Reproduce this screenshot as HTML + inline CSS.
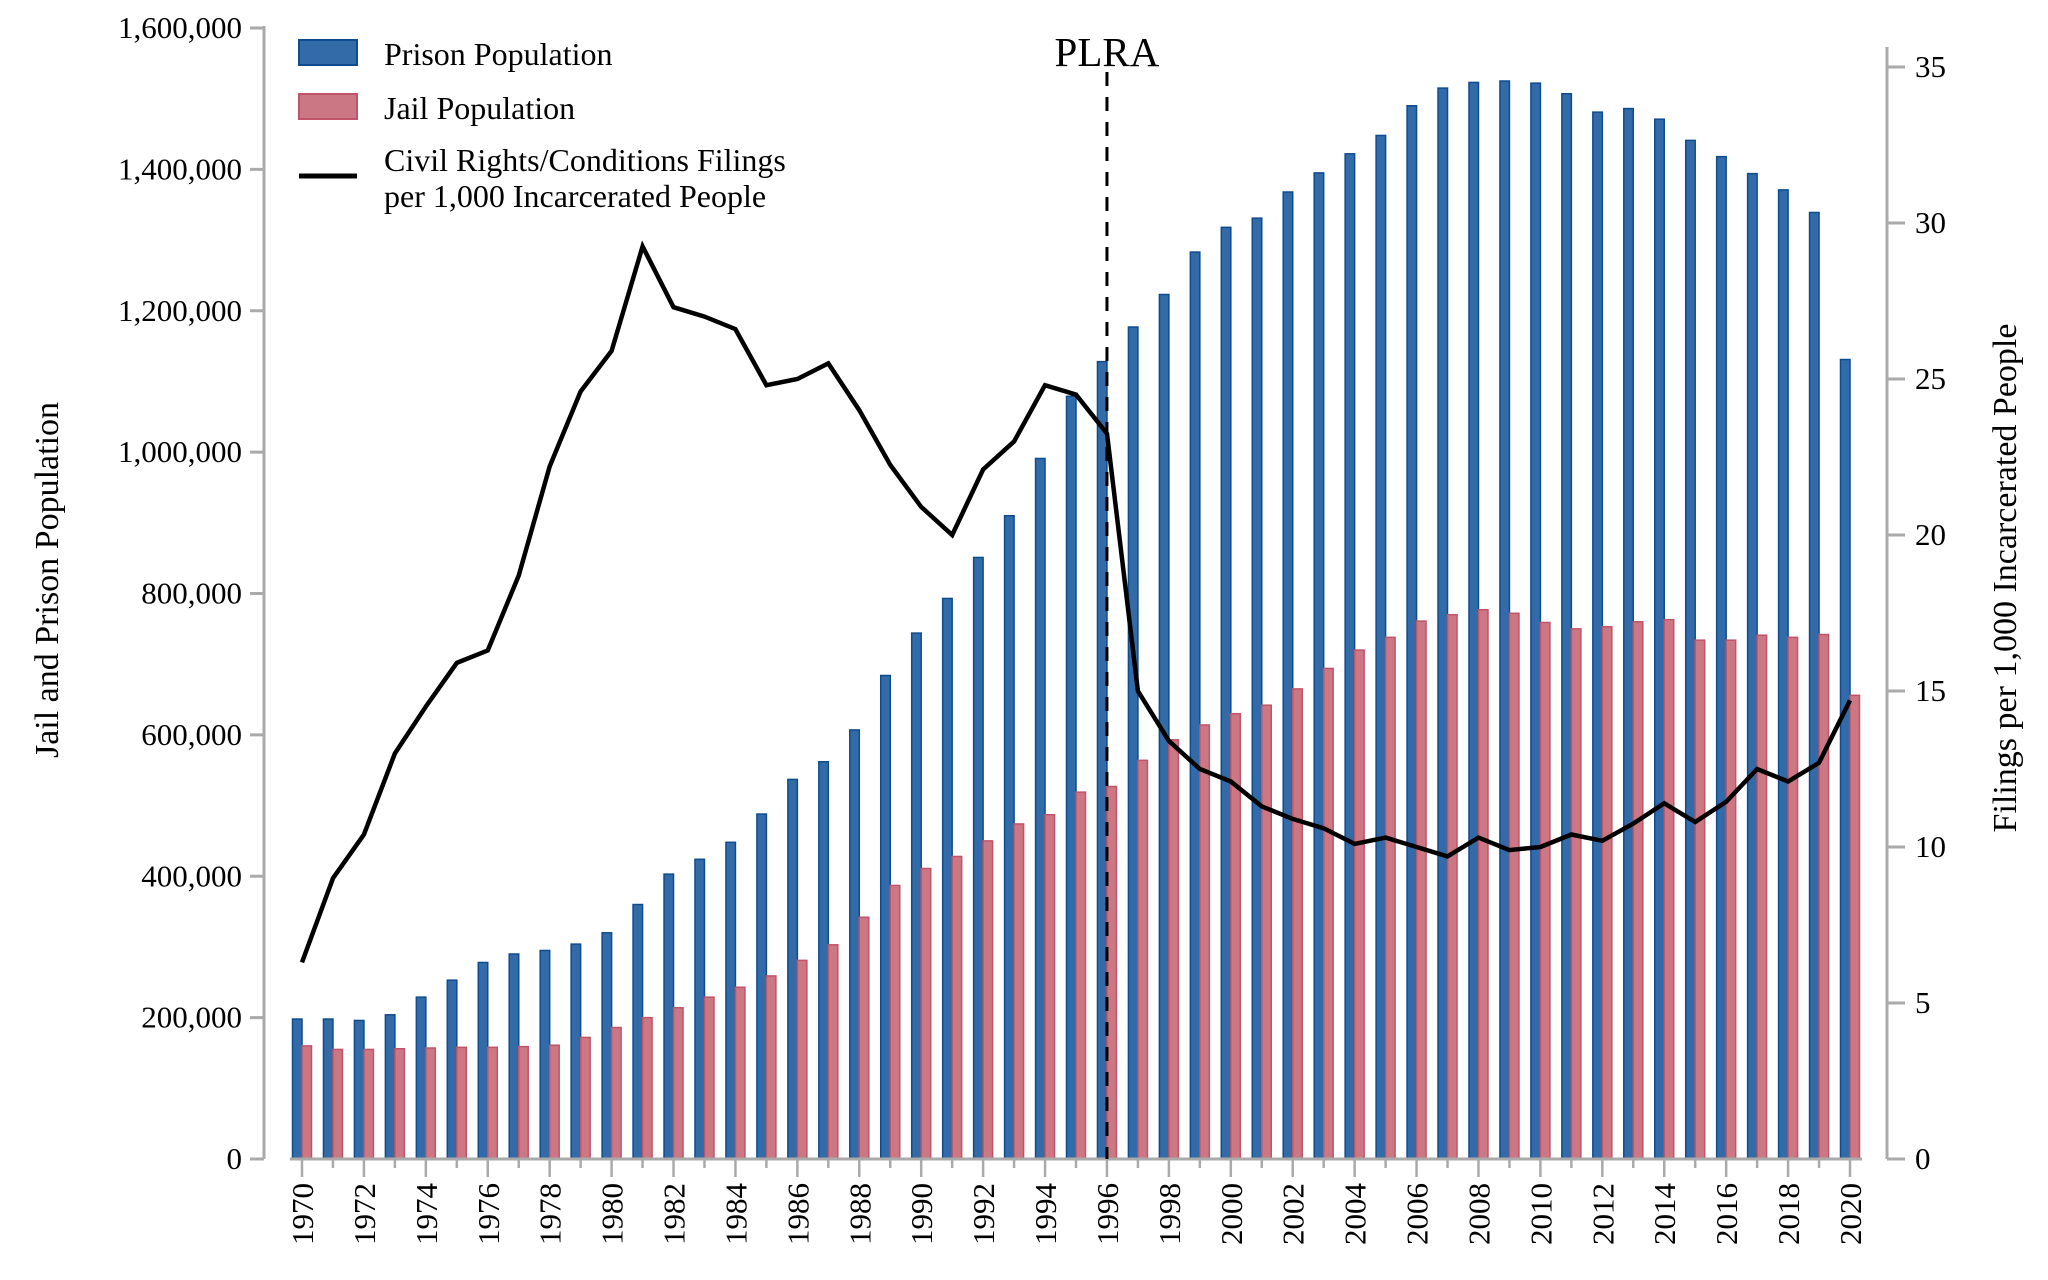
<!DOCTYPE html>
<html><head><meta charset="utf-8"><style>
html,body{margin:0;padding:0;background:#fff;}
svg{display:block;font-family:"Liberation Serif",serif;}
</style></head><body>
<svg id="chart" width="2048" height="1280" viewBox="0 0 2048 1280">
<g id="g-bars"></g>
<g id="g-axes"></g>
<g id="g-line"></g>
<g>
<rect x="299" y="40" width="58" height="25" fill="#336ba8" stroke="#0f4c8f" stroke-width="2"/>
<text x="384" y="65" font-size="32">Prison Population</text>
<rect x="299" y="94" width="58" height="25" fill="#cc7784" stroke="#c05468" stroke-width="2"/>
<text x="384" y="119" font-size="32">Jail Population</text>
<line x1="299" y1="176" x2="357" y2="176" stroke="#000" stroke-width="5"/>
<text x="384" y="171" font-size="32">Civil Rights/Conditions Filings</text>
<text x="384" y="207" font-size="32">per 1,000 Incarcerated People</text>
</g>
<text transform="translate(58,580) rotate(-90)" text-anchor="middle" font-size="34">Jail and Prison Population</text>
<text transform="translate(2016,578) rotate(-90)" text-anchor="middle" font-size="34">Filings per 1,000 Incarcerated People</text>
</svg>
<script>
const years=[];for(let y=1970;y<=2020;y++)years.push(y);
const prison=[198000,198000,196000,204000,229000,253000,278000,290000,295000,304000,320000,360000,403000,424000,448000,488000,537000,562000,607000,684000,744000,793000,851000,910000,991000,1079000,1128000,1177000,1223000,1283000,1318000,1331000,1368000,1395000,1422000,1448000,1490000,1515000,1523000,1525000,1522000,1507000,1481000,1486000,1471000,1441000,1418000,1394000,1371000,1339000,1131000];
const jail=[160000,155000,155000,156000,157000,158000,158000,159000,161000,172000,186000,200000,214000,229000,243000,259000,281000,303000,342000,387000,411000,428000,450000,474000,487000,519000,527000,564000,593000,614000,630000,642000,665000,694000,720000,738000,761000,770000,777000,772000,759000,750000,753000,760000,763000,734000,734000,741000,738000,742000,656000];
const filings=[6.3,9.0,10.4,13.0,14.5,15.9,16.3,18.7,22.2,24.6,25.9,29.25,27.3,27.0,26.6,24.8,25.0,25.5,24.0,22.25,20.9,20.0,22.1,23.0,24.8,24.5,23.25,15.0,13.4,12.5,12.1,11.3,10.9,10.6,10.1,10.3,10.0,9.7,10.3,9.9,10.0,10.4,10.2,10.75,11.4,10.8,11.45,12.5,12.1,12.7,14.7];
const leftTicks=[0,200000,400000,600000,800000,1000000,1200000,1400000,1600000];
const rightTicks=[0,5,10,15,20,25,30,35];
const plraYear=1996;

const NS="http://www.w3.org/2000/svg";
const X0=302,XS=30.96,Y0=1159,YTOP=28,RTOP=67;
const xs=y=>X0+(y-1970)*XS;
const yl=v=>Y0-v/1600000*(Y0-YTOP);
const yr=v=>Y0-v/35*(Y0-RTOP);
function mk(tag,attrs,parent){const e=document.createElementNS(NS,tag);for(const k in attrs)e.setAttribute(k,attrs[k]);parent.appendChild(e);return e;}
const gb=document.getElementById('g-bars'),ga=document.getElementById('g-axes'),gl=document.getElementById('g-line');
const BW=9.5;
years.forEach((y,i)=>{
  const x=xs(y);
  let r=mk('rect',{x:x-BW,y:yl(prison[i]),width:BW,height:Y0-yl(prison[i]),fill:'#336ba8',stroke:'#0f4c8f','stroke-width':1.5},gb);
  
  
  let p=mk('rect',{x:x,y:yl(jail[i]),width:BW,height:Y0-yl(jail[i]),fill:'#cc7784',stroke:'#c05468','stroke-width':1.5},gb);
  
  
});
// axes
let a=mk('line',{x1:264,y1:YTOP-2,x2:264,y2:Y0,stroke:'#aaa','stroke-width':3},ga);

a=mk('line',{x1:1887,y1:RTOP-20,x2:1887,y2:Y0,stroke:'#aaa','stroke-width':3},ga);

a=mk('line',{x1:xs(1970)-12,y1:Y0,x2:xs(2020)+12,y2:Y0,stroke:'#aaa','stroke-width':3},ga);

leftTicks.forEach(v=>{
  mk('line',{x1:250,y1:yl(v),x2:264,y2:yl(v),stroke:'#aaa','stroke-width':3},ga);
  const t=mk('text',{x:242,y:yl(v)+10,'text-anchor':'end','font-size':31},ga);
  t.textContent=v.toLocaleString('en-US');
  
  
});
rightTicks.forEach(v=>{
  mk('line',{x1:1887,y1:yr(v),x2:1905,y2:yr(v),stroke:'#aaa','stroke-width':3},ga);
  const t=mk('text',{x:1915,y:yr(v)+10,'font-size':31},ga);
  t.textContent=String(v);
  
  
});
years.forEach(y=>{
  const x=xs(y),maj=(y%2===0);
  mk('line',{x1:x,y1:Y0,x2:x,y2:Y0+(maj?18:9),stroke:'#aaa','stroke-width':2.5},ga);
  if(maj){
    const t=mk('text',{transform:`translate(${x+11},1183) rotate(-90)`,'text-anchor':'end','font-size':31},ga);
    t.textContent=String(y);
    
    
  }
});
// PLRA
const px=xs(plraYear);
let d=mk('line',{x1:px,y1:72,x2:px,y2:Y0,stroke:'#000','stroke-width':3,'stroke-dasharray':'14 11'},gl);

let pt=mk('text',{x:px,y:66,'text-anchor':'middle','font-size':41},gl);
pt.textContent='PLRA';

// line
const pts=years.map((y,i)=>xs(y).toFixed(1)+','+yr(filings[i]).toFixed(1)).join(' ');
let pl=mk('polyline',{points:pts,fill:'none',stroke:'#000','stroke-width':4.5,'stroke-linejoin':'miter'},gl);

</script>
</body></html>
